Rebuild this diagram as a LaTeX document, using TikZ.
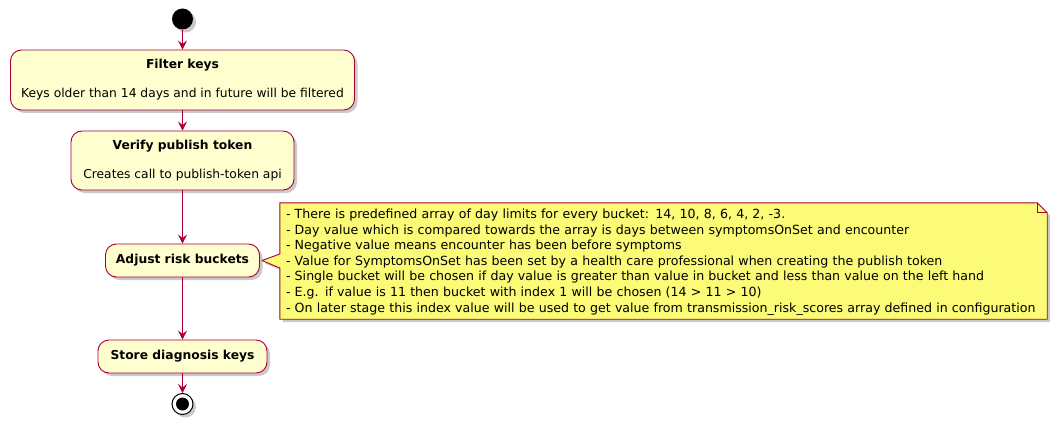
\documentclass[tikz,border=0pt]{standalone}
\usepackage{fontspec}
\setmainfont{DejaVu Sans}
\usetikzlibrary{arrows.meta,positioning,shadows,backgrounds}
\definecolor{umlred}{HTML}{A80036}
\definecolor{umlfill}{HTML}{FEFECE}
\definecolor{notefill}{HTML}{FBFB77}

\begin{document}
\begin{tikzpicture}[x=1pt,y=-1pt,>={Stealth[length=9pt,width=9pt,inset=3.5pt]},
 every node/.style={font=\fontsize{12.3}{14}\selectfont},
 umlshadow/.style={drop shadow={shadow xshift=3pt,shadow yshift=-3pt,fill=black!35,opacity=.6}},
 activity/.style={draw=umlred,fill=umlfill,rounded corners=11pt,align=center,line width=.9pt,inner sep=0pt,umlshadow},
 flow/.style={->,draw=umlred,line width=.9pt}]
\useasboundingbox (0,0) rectangle (1060,425);
\node[circle,fill=black,minimum size=21pt,inner sep=0pt,umlshadow] (start) at (182.5,19) {};
\node[activity,minimum width=344pt,minimum height=60pt] (filter) at (182.5,80)
 {\textbf{Filter keys}\\[15pt]Keys older than 14 days and in future will be filtered};
\node[activity,minimum width=223pt,minimum height=59pt] (verify) at (182.5,160.5)
 {\textbf{Verify publish token}\\[15pt]Creates call to publish-token api};
\node[activity,minimum width=154pt,minimum height=33pt] (adjust) at (182.5,260.5)
 {\textbf{Adjust risk buckets}};
\node[activity,minimum width=169pt,minimum height=33pt] (store) at (182.5,356.5)
 {\textbf{Store diagnosis keys}};
\node[circle,draw=black,line width=1pt,fill=white,minimum size=21pt,inner sep=0pt,umlshadow] (stop) at (182.5,404) {};
\fill (stop) circle (6.5pt);
% note on the bucket step
\node[minimum width=767pt,minimum height=116pt,inner xsep=6pt,text width=755pt,align=left,
 font=\fontsize{12.6}{15.6}\selectfont] (note) at (663.5,262)
 {- There is predefined array of day limits for every bucket: 14, 10, 8, 6, 4, 2, -3.\\
 - Day value which is compared towards the array is days between symptomsOnSet and encounter\\
 - Negative value means encounter has been before symptoms\\
 - Value for SymptomsOnSet has been set by a health care professional when creating the publish token\\
 - Single bucket will be chosen if day value is greater than value in bucket and less than value on the left hand\\
 - E.g. if value is 11 then bucket with index 1 will be chosen (14 > 11 > 10)\\
 - On later stage this index value will be used to get value from transmission\_risk\_scores array defined in configuration};
\begin{scope}[on background layer]
\path[fill=notefill,draw=umlred,line width=.9pt,umlshadow] ([yshift=1pt]note.north west) -- ([xshift=-10pt,yshift=1pt]note.north east)
 -- ([yshift=-9pt]note.north east) -- ([yshift=1pt]note.south east) -- ([yshift=1pt]note.south west)
 -- ([yshift=-6pt]note.west) -- ([xshift=2pt]adjust.east) -- ([yshift=8pt]note.west) -- cycle;
\draw[umlred,line width=.9pt] ([xshift=-10pt,yshift=1pt]note.north east) |- ([yshift=-9pt]note.north east);
\end{scope}
\draw[flow] (start) -- (filter);
\draw[flow] (filter) -- (verify);
\draw[flow] (verify) -- (adjust);
\draw[flow] (adjust) -- (store);
\draw[flow] (store) -- (stop);
\end{tikzpicture}
\end{document}
